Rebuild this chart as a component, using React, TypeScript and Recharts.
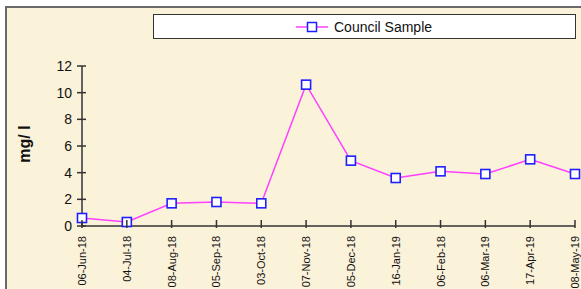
import { CartesianGrid, Line, LineChart, XAxis, YAxis } from "recharts"

// sample dates, as printed on the axis
const dates = [
  "06-Jun-18",
  "04-Jul-18",
  "08-Aug-18",
  "05-Sep-18",
  "03-Oct-18",
  "07-Nov-18",
  "05-Dec-18",
  "16-Jan-19",
  "06-Feb-18",
  "06-Mar-19",
  "17-Apr-19",
  "08-May-19",
]

// mg/l readings
const councilSample = [0.6, 0.3, 1.7, 1.8, 1.7, 10.6, 4.9, 3.6, 4.1, 3.9, 5.0, 3.9]

const yTicks = [0, 2, 4, 6, 8, 10, 12]

const data = dates.map((date, i) => ({ date, council: councilSample[i] }))

const LINE = "#ff40ff"
const MARK = "#1f1fff"
const AXIS = "#333"
const FONT = "'Liberation Sans', Arial, sans-serif"

// y tick: label plus a short tick crossing the axis
function YTick(props: any) {
  const { x, y, payload } = props
  return (
    <g>
      <line x1={x + 5} x2={x + 14} y1={y} y2={y} stroke={AXIS} strokeWidth={1.5} />
      <text x={x} y={y} textAnchor="end" dominantBaseline="central" fontSize={14} fill="#111" fontFamily={FONT}>
        {payload.value}
      </text>
    </g>
  )
}

// x tick: rotated date plus a crossing tick
function XTick(props: any) {
  const { x, y, payload } = props
  return (
    <g>
      <line x1={x} x2={x} y1={y - 10} y2={y - 2} stroke={AXIS} strokeWidth={1.5} />
      <text
        x={x}
        y={y + 6}
        transform={`rotate(-90 ${x} ${y + 6})`}
        textAnchor="end"
        dominantBaseline="central"
        fontSize={11}
        fill="#111"
        fontFamily={FONT}
      >
        {payload.value}
      </text>
    </g>
  )
}

function SquareDot(props: any) {
  const { cx, cy } = props
  if (cx == null || cy == null) return null
  return <rect x={cx - 4.5} y={cy - 4.5} width={9} height={9} fill="#fff" stroke={MARK} strokeWidth={1.6} />
}

function AxisLabel() {
  return (
    <text
      x={24}
      y={144}
      transform="rotate(-90 24 144)"
      textAnchor="middle"
      dominantBaseline="central"
      fontSize={16}
      fontWeight="bold"
      fill="#111"
      fontFamily={FONT}
    >
      mg/ l
    </text>
  )
}

export default function App() {
  return (
    <div style={{ position: "fixed", left: 0, top: 0, width: 581, height: 289, overflow: "hidden", background: "#fff" }}>
      {/* parchment frame */}
      <div
        style={{
          position: "absolute",
          left: 5,
          top: 6,
          width: 600,
          height: 300,
          background: "#fbf2da",
          borderLeft: "2px solid #6a6a6a",
          borderTop: "2px solid #6a6a6a",
        }}
      />
      {/* legend */}
      <div
        style={{
          position: "absolute",
          left: 153,
          top: 14,
          width: 421,
          height: 23,
          background: "#fff",
          border: "1.5px solid #333",
          display: "flex",
          alignItems: "center",
          fontFamily: FONT,
          fontSize: 14,
          color: "#111",
        }}
      >
        <svg width={32} height={12} style={{ marginLeft: 142, marginRight: 6 }}>
          <line x1={0} x2={32} y1={6} y2={6} stroke={LINE} strokeWidth={1.5} />
          <rect x={11.5} y={1.5} width={9} height={9} fill="#fff" stroke={MARK} strokeWidth={1.5} />
        </svg>
        <span>Council Sample</span>
      </div>
      <div style={{ position: "absolute", left: 0, top: 0 }}>
        <LineChart width={581} height={289} data={data} margin={{ top: 66, right: 6, bottom: 0, left: 0 }}>
          <CartesianGrid horizontal={false} vertical={false} />
          <XAxis
            dataKey="date"
            scale="point"
            padding={{ left: 0, right: 0 }}
            height={63}
            stroke={AXIS}
            strokeWidth={1.5}
            tickLine={false}
            tickSize={4}
            tickMargin={0}
            interval={0}
            tick={<XTick />}
          />
          <YAxis
            domain={[0, 12]}
            ticks={yTicks}
            width={82}
            stroke={AXIS}
            strokeWidth={1.5}
            tickLine={false}
            tickSize={4}
            tickMargin={6}
            tick={<YTick />}
            label={{ content: () => <AxisLabel /> }}
          />
          <Line
            dataKey="council"
            type="linear"
            stroke={LINE}
            strokeWidth={1.5}
            dot={<SquareDot />}
            activeDot={false}
            isAnimationActive={false}
          />
        </LineChart>
      </div>
    </div>
  )
}
